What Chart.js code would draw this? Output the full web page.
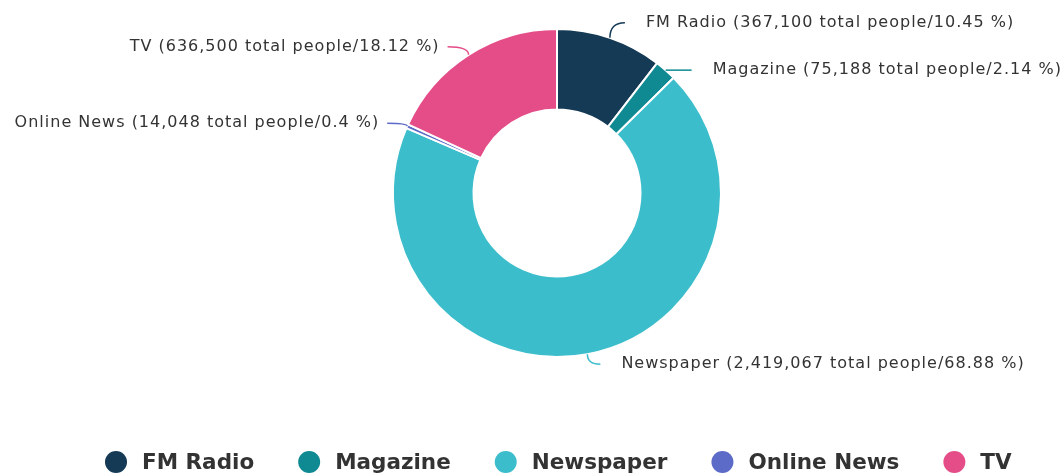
<!DOCTYPE html>
<html>
<head>
<meta charset="utf-8">
<script src="https://cdn.jsdelivr.net/npm/chart.js@4.4.1/dist/chart.umd.min.js"></script>
<style>
  html, body { margin: 0; padding: 0; background: #fff; overflow: hidden; }
</style>
</head>
<body>
<canvas id="mediaChart" width="1064" height="475"></canvas>
<script>
  // data
  const mediaLabels = ['FM Radio', 'Magazine', 'Newspaper', 'Online News', 'TV'];
  const totalPeople = [367100, 75188, 2419067, 14048, 636500];
  const sharePercent = [10.45, 2.14, 68.88, 0.4, 18.12];
  const sliceColors = ['#143a55', '#0f8a93', '#3cbdcb', '#5c6bc8', '#e44d87'];

  const textColor = '#333333';

  // connector end, relative to the slice's outer edge at its mid angle
  const labelOffsets = [[15, -15], [26, 0], [13, 10], [-20, -3], [-21, -8]];

  const sliceLabels = {
    id: 'sliceLabels',
    afterDatasetsDraw(chart) {
      const ctx = chart.ctx;
      const meta = chart.getDatasetMeta(0);
      ctx.save();
      ctx.font = '16px "DejaVu Sans"';
      ctx.letterSpacing = '1px';
      ctx.textBaseline = 'middle';
      meta.data.forEach((arc, i) => {
        const { x, y, startAngle, endAngle, outerRadius } =
          arc.getProps(['x', 'y', 'startAngle', 'endAngle', 'outerRadius'], true);
        const mid = (startAngle + endAngle) / 2;
        const px = x + Math.cos(mid) * outerRadius;
        const py = y + Math.sin(mid) * outerRadius;
        const ex = px + labelOffsets[i][0];
        const ey = py + labelOffsets[i][1];

        ctx.strokeStyle = sliceColors[i];
        ctx.lineWidth = 1.5;
        ctx.beginPath();
        ctx.moveTo(px, py);
        ctx.quadraticCurveTo(px, ey, ex, ey);
        ctx.stroke();

        const text = mediaLabels[i] + ' (' + totalPeople[i].toLocaleString('en-US') +
          ' total people/' + sharePercent[i] + ' %)';
        const onRight = ex > x;
        ctx.fillStyle = textColor;
        ctx.textAlign = onRight ? 'left' : 'right';
        ctx.fillText(text, onRight ? ex + 21 : ex - 8, ey);
      });
      ctx.restore();
    }
  };

  const bottomLegend = {
    id: 'bottomLegend',
    afterDraw(chart) {
      const ctx = chart.ctx;
      ctx.save();
      ctx.font = 'bold 21.5px "DejaVu Sans"';
      ctx.textBaseline = 'middle';
      ctx.textAlign = 'left';
      let cx = 116;
      const y = 462;
      mediaLabels.forEach((label, i) => {
        ctx.fillStyle = sliceColors[i];
        ctx.beginPath();
        ctx.arc(cx, y, 11, 0, Math.PI * 2);
        ctx.fill();
        ctx.fillStyle = textColor;
        ctx.fillText(label, cx + 26, y + 1);
        cx += 26 + ctx.measureText(label).width + 55;
      });
      ctx.restore();
    }
  };

  new Chart(document.getElementById('mediaChart'), {
    type: 'doughnut',
    data: {
      labels: mediaLabels,
      datasets: [{
        data: totalPeople,
        backgroundColor: sliceColors,
        borderColor: '#ffffff',
        borderWidth: 2,
        hoverOffset: 0
      }]
    },
    options: {
      responsive: false,
      animation: false,
      radius: 164,
      cutout: 83,
      layout: {
        padding: { top: 29, bottom: 118, left: 50, right: 0 }
      },
      plugins: {
        legend: { display: false },
        tooltip: { enabled: false }
      },
      events: []
    },
    plugins: [sliceLabels, bottomLegend]
  });
</script>
</body>
</html>
